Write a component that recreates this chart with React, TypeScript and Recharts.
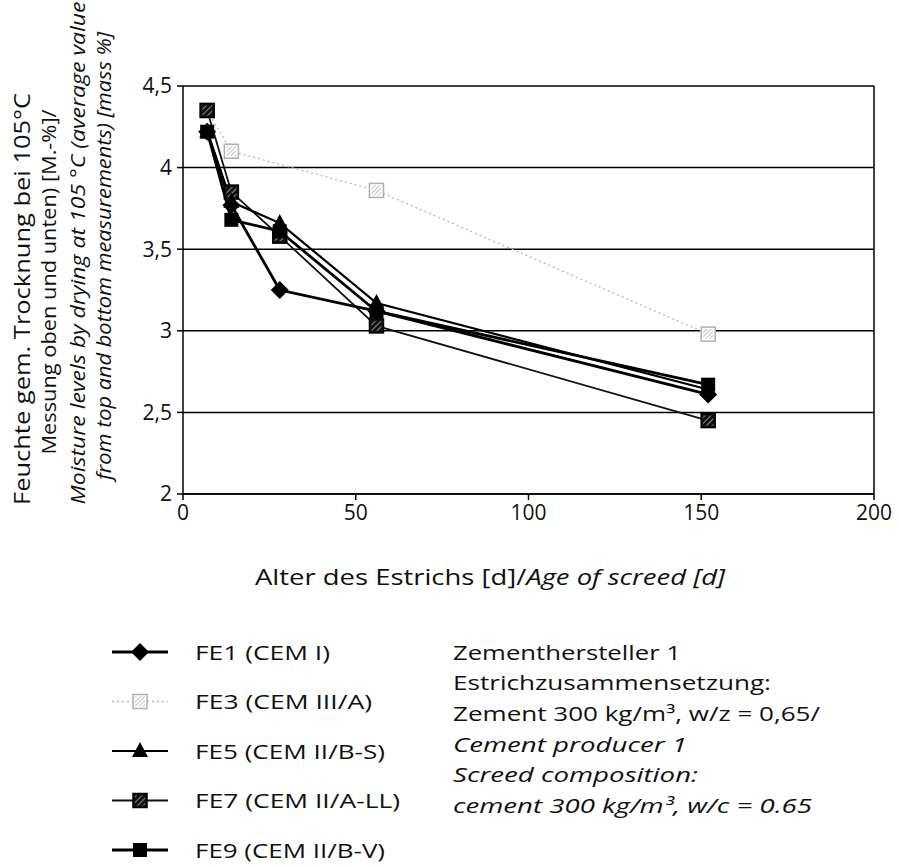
import React from "react";
import { LineChart, Line, XAxis, YAxis, CartesianGrid, ReferenceLine, Label } from "recharts";

// Alter des Estrichs in Tagen
const AGES = [7, 14, 28, 56, 152];
// Feuchte [M.-%] je Mischung
const FE1 = [4.22, 3.77, 3.25, 3.12, 2.61];
const FE3 = [4.35, 4.1, null, 3.86, 2.98];
const FE5 = [4.22, 3.79, 3.66, 3.17, 2.64];
const FE7 = [4.35, 3.85, 3.58, 3.03, 2.45];
const FE9 = [4.22, 3.68, 3.61, 3.12, 2.67];

const X_TICKS = [0, 50, 100, 150, 200];
const Y_TICKS = [2, 2.5, 3, 3.5, 4, 4.5];

const NOTE_LINES = [
  { text: "Zementhersteller 1", italic: false, len: 228 },
  { text: "Estrichzusammensetzung:", italic: false, len: 318 },
  { text: "Zement 300 kg/m³, w/z = 0,65/", italic: false, len: 367 },
  { text: "Cement producer 1", italic: true, len: 234 },
  { text: "Screed composition:", italic: true, len: 245 },
  { text: "cement 300 kg/m³, w/c = 0.65", italic: true, len: 359 },
];

const FONT = "'Open Sans', 'Noto Sans', sans-serif";

type DotProps = { cx?: number; cy?: number; index?: number; value?: number | null };

const skip = (p: DotProps) => p.value == null || p.cx == null || p.cy == null;

const diamondDot = (p: DotProps) => {
  if (skip(p)) return <g key={`fe1-${p.index}`} />;
  const { cx = 0, cy = 0 } = p;
  const r = 9;
  return (
    <path key={`fe1-${p.index}`} d={`M${cx},${cy - r}L${cx + r},${cy}L${cx},${cy + r}L${cx - r},${cy}Z`} fill="#000" />
  );
};

const triangleDot = (p: DotProps) => {
  if (skip(p)) return <g key={`fe5-${p.index}`} />;
  const { cx = 0, cy = 0 } = p;
  return (
    <path key={`fe5-${p.index}`} d={`M${cx},${cy - 9}L${cx + 8},${cy + 6}L${cx - 8},${cy + 6}Z`} fill="#000" />
  );
};

const squareDot = (p: DotProps) => {
  if (skip(p)) return <g key={`fe9-${p.index}`} />;
  const { cx = 0, cy = 0 } = p;
  return <rect key={`fe9-${p.index}`} x={cx - 7} y={cy - 7} width={14} height={14} fill="#000" />;
};

const hatchDot = (id: string, fill: string, stroke: string) => (p: DotProps) => {
  if (skip(p)) return <g key={`${id}-${p.index}`} />;
  const { cx = 0, cy = 0 } = p;
  return (
    <g key={`${id}-${p.index}`}>
      <rect x={cx - 7} y={cy - 7} width={14} height={14} fill={fill} stroke={stroke} strokeWidth={1.5} />
      <rect x={cx - 5} y={cy - 5} width={10} height={10} fill={`url(#${id})`} />
    </g>
  );
};

const SERIES = [
  { key: "fe3", label: "FE3 (CEM III/A)", values: FE3, stroke: "#b8b8b8", width: 1.3, dash: "2 3", dot: hatchDot("hatchLight", "#fff", "#b0b0b0"), legendLen: 177 },
  { key: "fe7", label: "FE7 (CEM II/A-LL)", values: FE7, stroke: "#111", width: 1.8, dash: undefined, dot: hatchDot("hatchDark", "#111", "#000"), legendLen: 205 },
  { key: "fe5", label: "FE5 (CEM II/B-S)", values: FE5, stroke: "#000", width: 2.2, dash: undefined, dot: triangleDot, legendLen: 190 },
  { key: "fe9", label: "FE9 (CEM II/B-V)", values: FE9, stroke: "#000", width: 2.8, dash: undefined, dot: squareDot, legendLen: 190 },
  { key: "fe1", label: "FE1 (CEM I)", values: FE1, stroke: "#000", width: 2.8, dash: undefined, dot: diamondDot, legendLen: 135 },
];

const LEGEND_ORDER = ["fe1", "fe3", "fe5", "fe7", "fe9"];

const data = AGES.map((age, i) => {
  const row: Record<string, number | null> = { age };
  SERIES.forEach((s) => (row[s.key] = s.values[i]));
  return row;
});

const Hatches = ({ suffix = "" }: { suffix?: string }) => (
  <defs>
    <pattern id={`hatchLight${suffix}`} width={3} height={3} patternUnits="userSpaceOnUse" patternTransform="rotate(45)">
      <line x1={0} y1={0} x2={0} y2={3} stroke="#9a9a9a" strokeWidth={1.2} />
    </pattern>
    <pattern id={`hatchDark${suffix}`} width={4} height={4} patternUnits="userSpaceOnUse" patternTransform="rotate(45)">
      <line x1={0} y1={0} x2={0} y2={4} stroke="#fff" strokeWidth={1} />
    </pattern>
  </defs>
);

// vierzeiliger Achsentitel, gedreht
const YTitle = () => {
  const lines = [
    { t: "Feuchte gem. Trocknung bei 105°C", x: 22, cy: 299, len: 412, size: 21, italic: false },
    { t: "Messung oben und unten) [M.-%]/", x: 48, cy: 282, len: 345, size: 20, italic: false },
    { t: "Moisture levels by drying at 105 °C (average value", x: 77, cy: 253, len: 503, size: 20, italic: true },
    { t: "from top and bottom measurements) [mass %]", x: 103, cy: 256, len: 448, size: 20, italic: true },
  ];
  return (
    <g>
      {lines.map((l) => (
        <text
          key={l.t}
          transform={`translate(${l.x},${l.cy}) rotate(-90)`}
          textAnchor="middle"
          dominantBaseline="central"
          fontFamily={FONT}
          fontSize={l.size}
          fontStyle={l.italic ? "italic" : "normal"}
          textLength={l.len}
          lengthAdjust="spacingAndGlyphs"
          fill="#111"
        >
          {l.t}
        </text>
      ))}
    </g>
  );
};

const XTitle = () => (
  <text x={255} y={585} fontFamily={FONT} fontSize={21} fill="#111" textLength={470} lengthAdjust="spacingAndGlyphs">
    <tspan>Alter des Estrichs [d]/</tspan>
    <tspan fontStyle="italic">Age of screed [d]</tspan>
  </text>
);

const Key = () => (
  <svg width={899} height={260} style={{ position: "absolute", left: 0, top: 620 }}>
    <Hatches suffix="-k" />
    {LEGEND_ORDER.map((k, i) => {
      const s = SERIES.find((x) => x.key === k)!;
      const y = 32 + i * 49.5;
      const dotFn =
        k === "fe3" ? hatchDot("hatchLight-k", "#fff", "#b0b0b0") : k === "fe7" ? hatchDot("hatchDark-k", "#111", "#000") : s.dot;
      return (
        <g key={k}>
          <line x1={112} x2={168} y1={y} y2={y} stroke={s.stroke} strokeWidth={s.width} strokeDasharray={s.dash} />
          {dotFn({ cx: 140, cy: y, index: i, value: 1 })}
          <text x={195} y={y} dominantBaseline="central" fontFamily={FONT} fontSize={20} fill="#111" textLength={s.legendLen} lengthAdjust="spacingAndGlyphs">
            {s.label}
          </text>
        </g>
      );
    })}
    {NOTE_LINES.map((n, i) => (
      <text
        key={n.text}
        x={453}
        y={32 + i * 30.7}
        dominantBaseline="central"
        fontFamily={FONT}
        fontSize={20}
        fontStyle={n.italic ? "italic" : "normal"}
        fill="#111"
        textLength={n.len}
        lengthAdjust="spacingAndGlyphs"
      >
        {n.text}
      </text>
    ))}
  </svg>
);

export default function App() {
  return (
    <div style={{ position: "absolute", left: 0, top: 0, width: 899, height: 867, background: "#fff" }}>
      <LineChart width={899} height={867} data={data} margin={{ top: 86, right: 25, left: 0, bottom: 333 }}>
        <Hatches />
        <CartesianGrid vertical={false} stroke="#000" strokeWidth={1.5} />
        <XAxis
          dataKey="age"
          type="number"
          domain={[0, 200]}
          ticks={X_TICKS}
          height={40}
          stroke="#000"
          strokeWidth={1.5}
          tickSize={6}
          tick={{ fontSize: 21, fontFamily: FONT, fill: "#111" }}
          tickMargin={5}
        />
        <YAxis
          domain={[2, 4.5]}
          ticks={Y_TICKS}
          width={183}
          stroke="#000"
          strokeWidth={1.5}
          tickSize={6}
          tickMargin={5}
          tick={{ fontSize: 21, fontFamily: FONT, fill: "#111" }}
          tickFormatter={(v: number) => String(v).replace(".", ",")}
        >
          <Label content={<YTitle />} />
        </YAxis>
        <ReferenceLine x={200} stroke="#000" strokeWidth={1.5} />
        {SERIES.map((s) => (
          <Line
            key={s.key}
            dataKey={s.key}
            stroke={s.stroke}
            strokeWidth={s.width}
            strokeDasharray={s.dash}
            dot={s.dot}
            activeDot={false}
            connectNulls
            isAnimationActive={false}
          />
        ))}
        <XTitle />
      </LineChart>
      <Key />
    </div>
  );
}
